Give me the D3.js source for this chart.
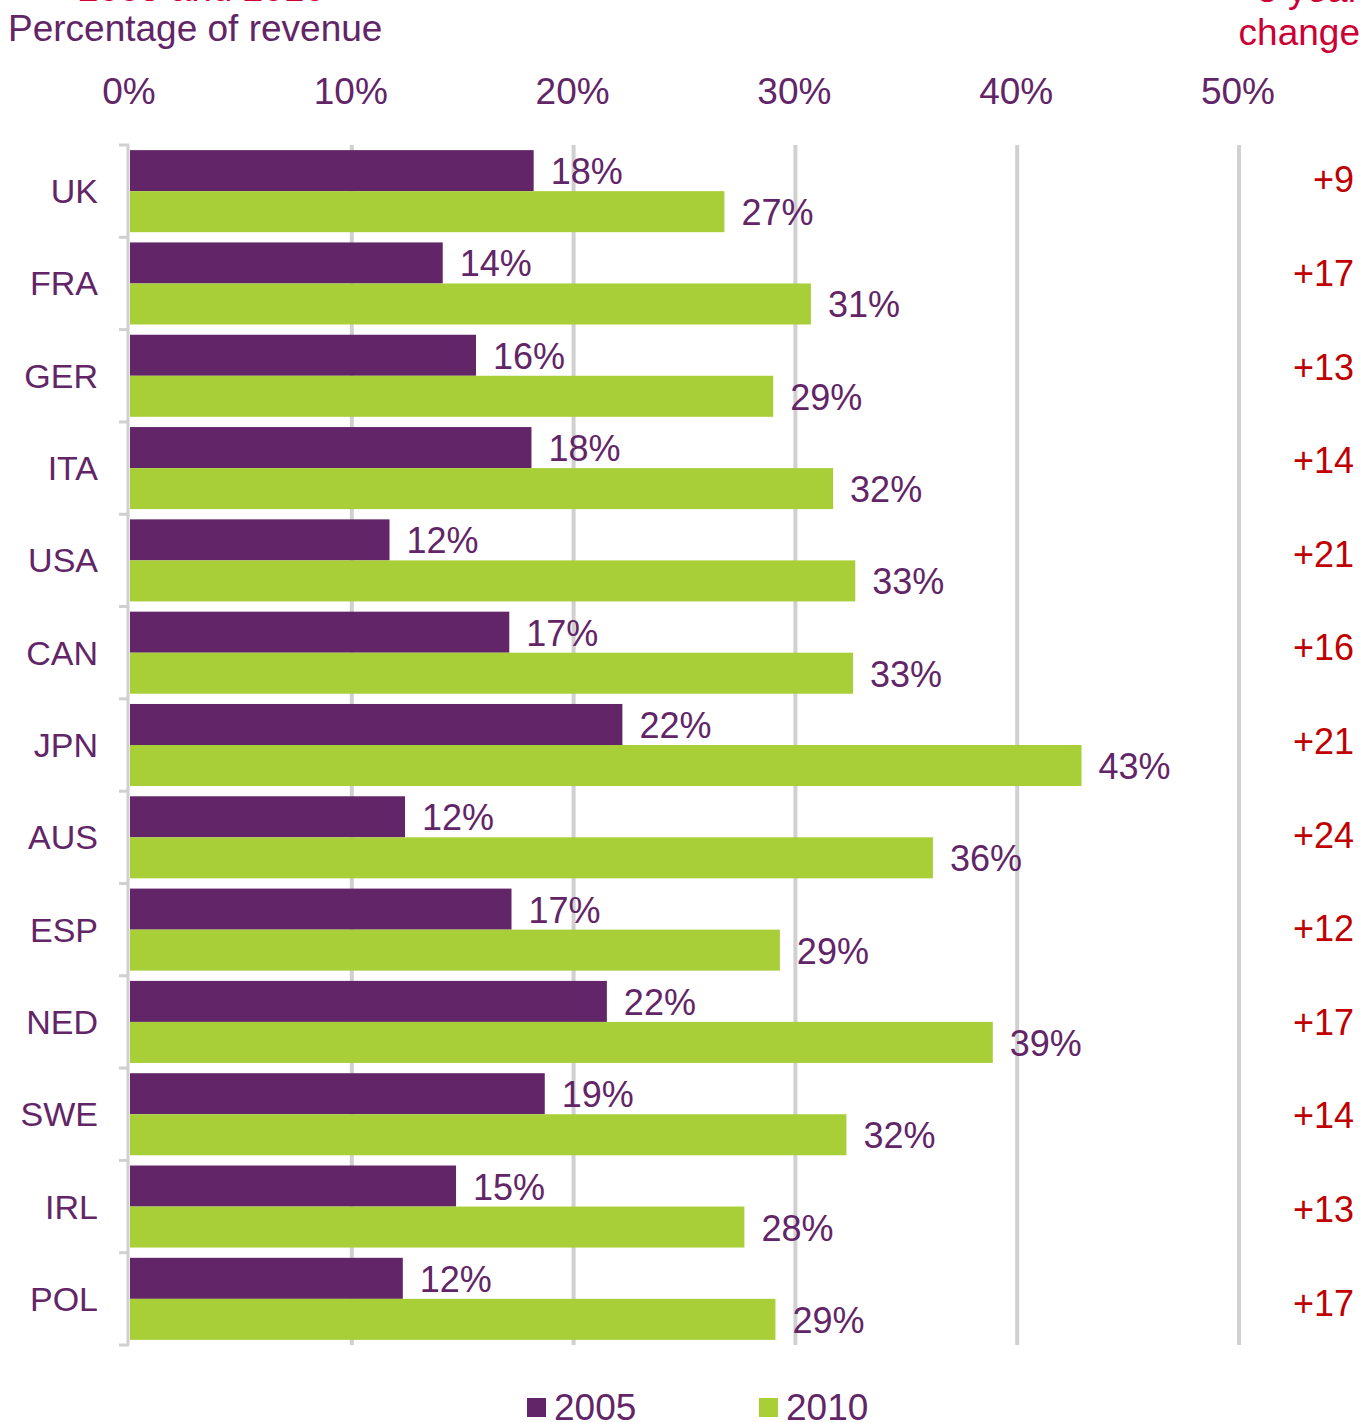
<!DOCTYPE html>
<html>
<head>
<meta charset="utf-8">
<script src="https://cdn.jsdelivr.net/npm/d3@7"></script>
<style>
  body { margin: 0; background: #fff; }
  svg { display: block; font-family: "Liberation Sans", Arial, sans-serif; }
</style>
</head>
<body>
<div id="chart"></div>
<script>
// ---------- Data ----------
const countries = ["UK", "FRA", "GER", "ITA", "USA", "CAN", "JPN", "AUS", "ESP", "NED", "SWE", "IRL", "POL"];
const values2005 = [18.2, 14.1, 15.6, 18.1, 11.7, 17.1, 22.2, 12.4, 17.2, 21.5, 18.7, 14.7, 12.3];
const values2010 = [26.8, 30.7, 29.0, 31.7, 32.7, 32.6, 42.9, 36.2, 29.3, 38.9, 32.3, 27.7, 29.1];
const labels2005 = ["18%", "14%", "16%", "18%", "12%", "17%", "22%", "12%", "17%", "22%", "19%", "15%", "12%"];
const labels2010 = ["27%", "31%", "29%", "32%", "33%", "33%", "43%", "36%", "29%", "39%", "32%", "28%", "29%"];
const changes = ["+9", "+17", "+13", "+14", "+21", "+16", "+21", "+24", "+12", "+17", "+14", "+13", "+17"];
const xTicks = [0, 10, 20, 30, 40, 50];
const seriesNames = ["2005", "2010"];

const purple = "#622567";
const green = "#a8cf38";
const red = "#c00000";
const crimson = "#cc0033";
const grid = "#d0d0d0";

const width = 1369, height = 1422;

const svg = d3.select("#chart").append("svg")
    .attr("width", width)
    .attr("height", height);

// ----- Scales -----
const x = d3.scaleLinear().domain([0, 50]).range([130, 1239]);
const y = d3.scaleBand().domain(countries).range([145, 1345]);
const inner = d3.scaleBand().domain(seriesNames).range([0, y.bandwidth()]).paddingOuter(0.125).paddingInner(0);
// the change column sits a little higher and a little wider spaced
const yChange = d3.scaleBand().domain(countries).range([133, 1350]);

// ----- Titles (cut off at the top) -----
svg.append("text")
    .attr("x", 325).attr("y", 1)
    .attr("text-anchor", "end")
    .attr("font-size", 37)
    .attr("fill", crimson)
    .text("2005 and 2010");

svg.append("text")
    .attr("x", 1360).attr("y", 2)
    .attr("text-anchor", "end")
    .attr("font-size", 37)
    .attr("fill", crimson)
    .text("5 year");

svg.append("text")
    .attr("x", 1360).attr("y", 45)
    .attr("text-anchor", "end")
    .attr("font-size", 37)
    .attr("fill", crimson)
    .text("change");

svg.append("text")
    .attr("x", 8).attr("y", 41)
    .attr("font-size", 37)
    .attr("fill", purple)
    .text("Percentage of revenue");

// ----- Gridlines -----
svg.append("g")
    .selectAll("line")
    .data(xTicks.filter(d => d > 0))
    .join("line")
    .attr("x1", d => x(d)).attr("x2", d => x(d))
    .attr("y1", 145).attr("y2", 1345)
    .attr("stroke", grid)
    .attr("stroke-width", 4);

// ----- Top axis labels -----
svg.append("g")
    .selectAll("text")
    .data(xTicks)
    .join("text")
    .attr("x", d => x(d) - 1)
    .attr("y", 104)
    .attr("text-anchor", "middle")
    .attr("font-size", 37)
    .attr("fill", purple)
    .text(d => d + "%");

// ----- Bars -----
const rows = svg.append("g")
    .selectAll("g")
    .data(countries)
    .join("g")
    .attr("transform", d => `translate(0,${y(d)})`);

rows.append("rect")
    .attr("x", x(0))
    .attr("y", inner("2005"))
    .attr("width", (d, i) => x(values2005[i]) - x(0))
    .attr("height", inner.bandwidth())
    .attr("fill", purple);

rows.append("rect")
    .attr("x", x(0))
    .attr("y", inner("2010"))
    .attr("width", (d, i) => x(values2010[i]) - x(0))
    .attr("height", inner.bandwidth())
    .attr("fill", green);

rows.append("text")
    .attr("x", (d, i) => x(values2005[i]) + 17)
    .attr("y", inner("2005") + inner.bandwidth() / 2 + 1)
    .attr("dominant-baseline", "central")
    .attr("font-size", 36)
    .attr("fill", purple)
    .text((d, i) => labels2005[i]);

rows.append("text")
    .attr("x", (d, i) => x(values2010[i]) + 17)
    .attr("y", inner("2010") + inner.bandwidth() / 2 + 1)
    .attr("dominant-baseline", "central")
    .attr("font-size", 36)
    .attr("fill", purple)
    .text((d, i) => labels2010[i]);

// Category labels
rows.append("text")
    .attr("x", 98)
    .attr("y", y.bandwidth() / 2)
    .attr("dominant-baseline", "central")
    .attr("text-anchor", "end")
    .attr("font-size", 34)
    .attr("fill", purple)
    .text(d => d);

// ----- 5 year change -----
svg.append("g")
    .selectAll("text")
    .data(countries)
    .join("text")
    .attr("x", 1354)
    .attr("y", d => yChange(d) + yChange.bandwidth() / 2)
    .attr("dominant-baseline", "central")
    .attr("text-anchor", "end")
    .attr("font-size", 36)
    .attr("fill", red)
    .text((d, i) => changes[i]);

// ----- Left axis with boundary ticks -----
const axisG = svg.append("g");
axisG.append("line")
    .attr("x1", 128).attr("x2", 128)
    .attr("y1", 145).attr("y2", 1345)
    .attr("stroke", grid)
    .attr("stroke-width", 3);

const bounds = countries.map(c => y(c)).concat([y.range()[1]]);
axisG.selectAll("line.tick")
    .data(bounds)
    .join("line")
    .attr("class", "tick")
    .attr("x1", 119).attr("x2", 129)
    .attr("y1", d => d).attr("y2", d => d)
    .attr("stroke", grid)
    .attr("stroke-width", 3);

// ----- Legend -----
const legendX = [527, 759];
const legendColors = [purple, green];
const legend = svg.append("g")
    .selectAll("g")
    .data(seriesNames)
    .join("g")
    .attr("transform", (d, i) => `translate(${legendX[i]},1398)`);

legend.append("rect")
    .attr("width", 19).attr("height", 19)
    .attr("fill", (d, i) => legendColors[i]);

legend.append("text")
    .attr("x", 27)
    .attr("y", 22)
    .attr("font-size", 37)
    .attr("fill", purple)
    .text(d => d);
</script>
</body>
</html>
